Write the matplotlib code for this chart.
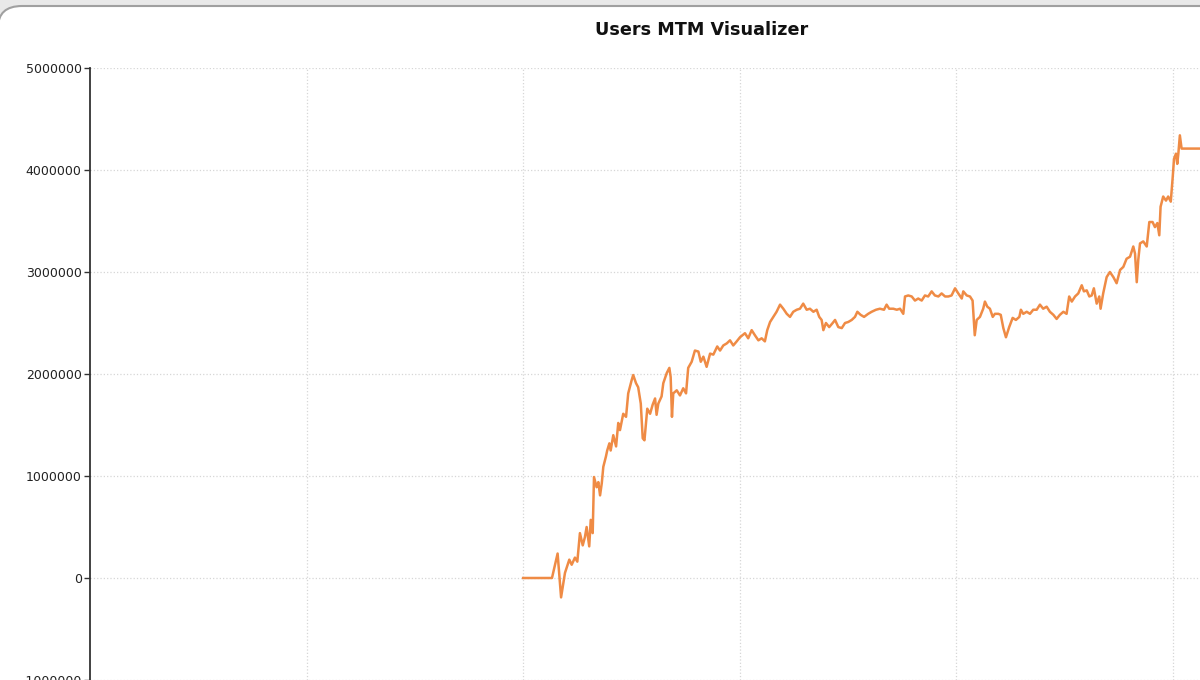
import matplotlib
matplotlib.use("Agg")
import matplotlib.pyplot as plt
from matplotlib.patches import FancyBboxPatch

# --- data (x in chart units, MTM in millions) ---
mtm_x = [200, 213.3, 215.9, 217.5, 219.3, 221.3, 222.4, 223.9, 225.0, 226.2,
         227.5, 228.5, 229.3, 230.5, 231.2, 232.1, 232.7, 233.9, 234.7, 235.5,
         236.3, 237.0, 238.2, 238.8, 239.8, 240.4, 241.6, 242.9, 243.9, 244.7,
         246.2, 247.5, 248.5, 250.1, 250.8, 252.1, 253.1, 254.3, 255.2, 256.0,
         257.3, 258.6, 259.8, 260.9, 261.6, 262.4, 263.9, 264.7, 266.3, 267.5,
         268.1, 268.7, 269.3, 270.9, 272.4, 273.9, 275.2, 276.2, 277.8, 279.3,
         280.9, 282.0, 283.2, 284.7, 286.3, 287.8, 289.6, 290.9, 292.4, 294.0,
         295.5, 297.0, 298.6, 300.1, 302.4, 303.9, 305.5, 307.0, 308.6, 310.1,
         311.6, 312.7, 314.0, 315.5, 317.0, 318.6, 320.1, 321.7, 323.2, 324.7,
         326.3, 327.8, 329.3, 330.9, 332.4, 334.0, 335.5, 336.7, 337.8, 338.6,
         339.8, 341.3, 342.9, 344.0, 345.5, 347.1, 348.6, 350.1, 351.7, 353.2,
         354.3, 355.8, 357.4, 359.3, 360.9, 362.9, 364.7, 366.6, 367.8, 369.0,
         370.9, 372.5, 374.0, 375.5, 376.3, 377.8, 379.4, 380.9, 382.4, 384.0,
         385.5, 387.0, 388.6, 390.1, 391.7, 393.2, 394.8, 396.3, 397.8, 399.4,
         400.9, 402.5, 403.2, 404.8, 406.3, 407.5, 408.5, 409.4, 410.9, 412.4,
         413.2, 414.3, 415.5, 416.8, 417.8, 419.4, 420.5, 421.7, 422.9, 424.4,
         426.0, 427.5, 429.1, 429.8, 430.9, 432.5, 434.0, 435.5, 437.1, 438.6,
         440.1, 441.7, 443.2, 444.8, 446.3, 447.8, 449.4, 450.9, 452.1, 453.3,
         454.8, 456.3, 457.9, 458.9, 460.2, 461.4, 462.5, 463.5, 464.8, 466.0,
         466.6, 467.8, 469.4, 470.9, 472.5, 474.0, 475.6, 477.1, 478.6, 480.2,
         481.7, 482.5, 483.3, 484.0, 484.8, 486.3, 487.9, 489.1, 490.6, 491.7,
         492.8, 493.7, 494.3, 495.5, 496.8, 497.8, 499.0, 499.9, 500.5, 501.4,
         502.0, 502.5, 503.2, 504.0, 505.6, 515.0]
mtm_m = [0, 0, 0.24, -0.19, 0.05, 0.18, 0.13, 0.20, 0.16, 0.44,
         0.32, 0.40, 0.50, 0.31, 0.57, 0.44, 0.99, 0.89, 0.94, 0.81,
         0.93, 1.09, 1.19, 1.25, 1.32, 1.25, 1.40, 1.29, 1.52, 1.45,
         1.61, 1.58, 1.81, 1.94, 1.99, 1.91, 1.87, 1.71, 1.37, 1.35,
         1.66, 1.61, 1.70, 1.76, 1.60, 1.71, 1.78, 1.91, 2.01, 2.06,
         1.97, 1.58, 1.81, 1.84, 1.79, 1.86, 1.81, 2.06, 2.12, 2.23,
         2.22, 2.12, 2.17, 2.07, 2.20, 2.19, 2.27, 2.23, 2.28, 2.30,
         2.33, 2.28, 2.32, 2.36, 2.40, 2.35, 2.43, 2.38, 2.33, 2.35,
         2.32, 2.43, 2.51, 2.56, 2.61, 2.68, 2.64, 2.59, 2.56, 2.61,
         2.63, 2.64, 2.69, 2.63, 2.64, 2.61, 2.63, 2.56, 2.53, 2.43,
         2.50, 2.46, 2.50, 2.53, 2.46, 2.45, 2.50, 2.51, 2.53, 2.56,
         2.61, 2.58, 2.56, 2.59, 2.61, 2.63, 2.64, 2.63, 2.68, 2.64,
         2.64, 2.63, 2.64, 2.59, 2.76, 2.77, 2.76, 2.72, 2.74, 2.72,
         2.77, 2.76, 2.81, 2.77, 2.76, 2.79, 2.76, 2.76, 2.77, 2.84,
         2.79, 2.74, 2.81, 2.77, 2.76, 2.72, 2.38, 2.53, 2.56, 2.64,
         2.71, 2.66, 2.64, 2.56, 2.59, 2.59, 2.58, 2.45, 2.36, 2.46,
         2.55, 2.53, 2.56, 2.63, 2.59, 2.61, 2.59, 2.63, 2.63, 2.68,
         2.64, 2.66, 2.61, 2.58, 2.54, 2.58, 2.61, 2.59, 2.76, 2.71,
         2.76, 2.79, 2.87, 2.81, 2.82, 2.76, 2.77, 2.84, 2.69, 2.76,
         2.64, 2.79, 2.95, 3.00, 2.95, 2.89, 3.02, 3.05, 3.13, 3.15,
         3.25, 3.18, 2.90, 3.12, 3.28, 3.30, 3.25, 3.49, 3.49, 3.44,
         3.48, 3.36, 3.64, 3.74, 3.70, 3.74, 3.69, 3.93, 4.11, 4.16,
         4.06, 4.16, 4.34, 4.21, 4.21, 4.21]
y_ticks = [-1000000, 0, 1000000, 2000000, 3000000, 4000000, 5000000]
x_grid = [100, 200, 300, 400, 500]
title = "Users MTM Visualizer"

mtm = [v * 1e6 for v in mtm_m]

fig = plt.figure(figsize=(12, 6.8), dpi=100)
fig.patch.set_facecolor("#e9e9e9")

# white panel with rounded top-left corner (screenshot frame)
panel = FancyBboxPatch((-2 / 1200, -0.1), 1.2, 0.1 + 674 / 680,
                       boxstyle="round,pad=0,rounding_size=0.02",
                       transform=fig.transFigure, facecolor="white",
                       edgecolor="#a0a0a0", linewidth=1.5, zorder=-10,
                       mutation_aspect=1.6)
fig.patches.append(panel)

ax = fig.add_axes([90 / 1200, 0, 1110 / 1200, 612 / 680])
ax.set_facecolor("none")
ax.plot(mtm_x, mtm, color="#ef8b45", linewidth=1.8, zorder=3)

ax.set_xlim(0, 512.5)
ax.set_ylim(-1000000, 5000000)
ax.set_yticks(y_ticks)
ax.set_yticklabels([str(v) for v in y_ticks])
ax.set_xticks(x_grid)
ax.tick_params(axis="x", length=0, labelbottom=False)
ax.tick_params(axis="y", length=4, width=1, color="#333333",
               labelcolor="#222222", labelsize=9, pad=2)
ax.grid(True, color="#d6d6d6", linestyle=":", linewidth=0.9)
for s in ["top", "right", "bottom"]:
    ax.spines[s].set_visible(False)
ax.spines["left"].set_color("#333333")
ax.spines["left"].set_linewidth(1.3)

fig.text(702 / 1200, 1 - 30 / 680, title, ha="center", va="center",
         fontsize=12.7, fontweight="bold", color="#111111")

fig.savefig("out.png", dpi=100)
